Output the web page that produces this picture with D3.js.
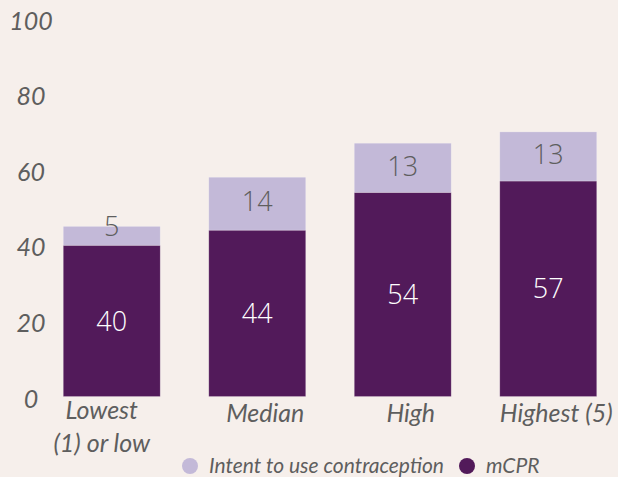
<!DOCTYPE html>
<html>
<head>
<meta charset="utf-8">
<script src="https://cdn.jsdelivr.net/npm/d3@7"></script>
<style>
    html, body { margin: 0; padding: 0; background: #f6efeb; }
    svg { display: block; }
    .tick-label, .cat-label, .legend-label { font-family: Lato, "Open Sans", sans-serif; font-style: italic; fill: #5e5e5e; }
    .value-label { font-family: "Open Sans", "Noto Sans", sans-serif; font-weight: 300; }
</style>
</head>
<body>
<script>
// Chart data
const categories = ["Lowest (1) or low", "Median", "High", "Highest (5)"];
const categoryLines = [["Lowest", "(1) or low"], ["Median"], ["High"], ["Highest (5)"]];
const mcpr = [40, 44, 54, 57];
const intent = [5, 14, 13, 13];
const yTicks = [0, 20, 40, 60, 80, 100];
const seriesNames = ["Intent to use contraception", "mCPR"];

const COLORS = { mcpr: "#521a5a", intent: "#c3b9d8", text: "#5e5e5e" };
const W = 618, H = 477;

const svg = d3.select("body").append("svg")
    .attr("width", W)
    .attr("height", H);

svg.append("rect").attr("width", W).attr("height", H).attr("fill", "#f6efeb");

const y = d3.scaleLinear().domain([0, 100]).range([396.5, 18.5]);
const x = d3.scaleBand().domain(categories).range([39, 621]).paddingInner(0.334).paddingOuter(0.167);

// Y tick labels (no axis line)
svg.append("g").selectAll("text")
    .data(yTicks)
    .enter().append("text")
    .attr("class", "tick-label")
    .attr("x", 31)
    .attr("y", d => y(d) + 11)
    .attr("text-anchor", "middle")
    .attr("font-size", 25)
    .text(d => d);

// Stacked bars
const rows = categories.map((c, i) => ({ cat: c, mcpr: mcpr[i], intent: intent[i] }));
const stack = d3.stack().keys(["mcpr", "intent"])(rows);

const layers = svg.append("g").selectAll("g")
    .data(stack)
    .enter().append("g")
    .attr("fill", d => COLORS[d.key]);

layers.selectAll("rect")
    .data(d => d)
    .enter().append("rect")
    .attr("x", d => x(d.data.cat))
    .attr("y", d => y(d[1]))
    .attr("width", x.bandwidth())
    .attr("height", d => y(d[0]) - y(d[1]))
    .attr("stroke", "#ffffff")
    .attr("stroke-opacity", 0.25)
    .attr("stroke-width", 0.8);

// Value labels
stack.forEach(layer => {
    svg.append("g").selectAll("text")
        .data(layer)
        .enter().append("text")
        .attr("class", "value-label")
        .attr("x", d => x(d.data.cat) + x.bandwidth() / 2)
        .attr("y", d => {
            const top = y(d[1]), bottom = y(d[0]);
            const mid = (top + bottom) / 2;
            if (layer.key === "intent") return (bottom - top) < 25 ? top : mid - 2;
            return mid;
        })
        .attr("dy", "0.36em")
        .attr("text-anchor", "middle")
        .attr("font-size", 27)
        .attr("fill", layer.key === "mcpr" ? "#ffffff" : COLORS.text)
        .text(d => d.data[layer.key]);
});

// Category labels
categories.forEach((c, i) => {
    const lines = categoryLines[i];
    const cx = x(c) + x.bandwidth() / 2 + (lines.length > 1 ? -10 : 8);
    const t = svg.append("text")
        .attr("class", "cat-label")
        .attr("text-anchor", "middle")
        .attr("font-size", 25);
    lines.forEach((ln, j) => {
        t.append("tspan")
            .attr("x", cx)
            .attr("y", (lines.length > 1 ? 419 : 422) + j * 33)
            .text(ln);
    });
});

// Legend
const legend = svg.append("g");
const legendItems = [
    { name: seriesNames[0], color: COLORS.intent, cx: 190 },
    { name: seriesNames[1], color: COLORS.mcpr, cx: 467 }
];
legendItems.forEach(item => {
    legend.append("circle")
        .attr("cx", item.cx)
        .attr("cy", 466)
        .attr("r", 8)
        .attr("fill", item.color);
    legend.append("text")
        .attr("class", "legend-label")
        .attr("x", item.cx + 19)
        .attr("y", 473)
        .attr("font-size", 21)
        .text(item.name);
});
</script>
</body>
</html>
